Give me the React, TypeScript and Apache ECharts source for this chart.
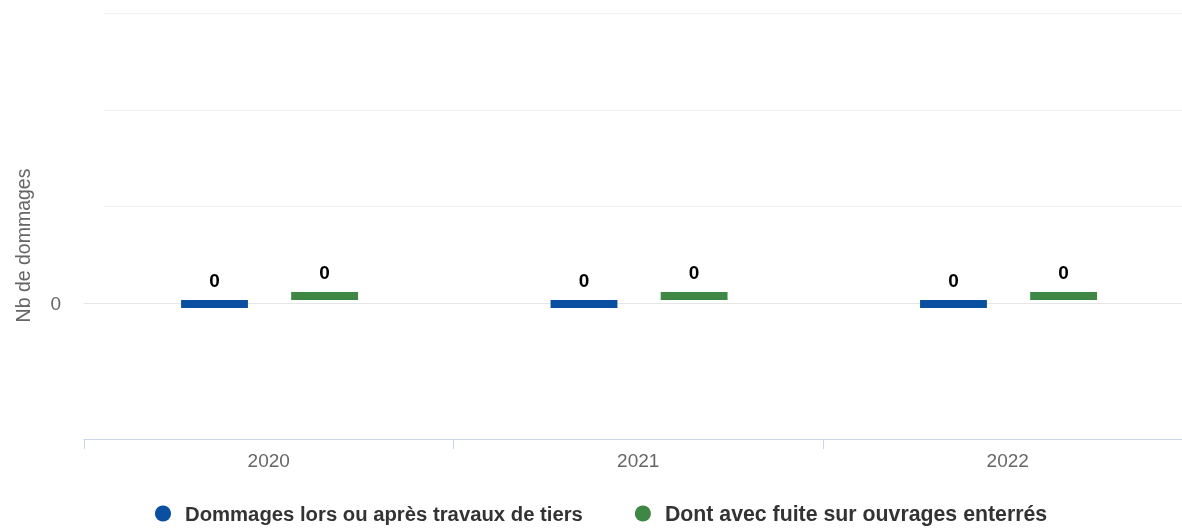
import React, { useEffect, useRef } from "react";
import * as echarts from "echarts";

const categories = ["2020", "2021", "2022"];
const blueValues = [0, 0, 0];
const greenValues = [0, 0, 0];
const seriesNames = [
  "Dommages lors ou après travaux de tiers",
  "Dont avec fuite sur ouvrages enterrés",
];
const seriesColors = ["#0a4fa0", "#3e8744"];
const yTitle = "Nb de dommages";
const yGridValues = [0, 1, 2, 3];

const FONT = "'Liberation Sans', Arial, Helvetica, sans-serif";

function makeRenderItem(s: number) {
  return (params: any, api: any) => {
    const idx = api.value(0);
    const v = api.value(1);
    const c = api.coord([idx, v]);
    const zero = api.coord([idx, 0]);
    const band = api.size([1, 0])[0];
    const w = band * 0.181;
    const off = band * 0.149 * (s === 0 ? -1 : 1);
    const x = c[0] + off - w / 2 + 0.8;
    let top: number;
    let h: number;
    if (v === 0) {
      top = zero[1] + (s === 0 ? -3.4 : -11.4);
      h = 8;
    } else {
      top = Math.min(c[1], zero[1]);
      h = Math.abs(c[1] - zero[1]);
    }
    return {
      type: "group",
      children: [
        {
          type: "rect",
          shape: { x, y: top, width: w, height: h },
          style: { fill: seriesColors[s] },
        },
        {
          type: "text",
          style: {
            text: String(v),
            x: x + w / 2,
            y: top - 20,
            textAlign: "center",
            textVerticalAlign: "middle",
            fill: "#000",
            font: `bold 19px ${FONT}`,
          },
        },
      ],
    };
  };
}

export default function App() {
  const ref = useRef<HTMLDivElement>(null);
  useEffect(() => {
    if (!ref.current) return;
    const chart = echarts.init(ref.current, undefined, { renderer: "svg" });
    const option: any = {
      animation: false,
      textStyle: { fontFamily: FONT },
      grid: [
        { left: 84, width: 1108.5, top: 13, bottom: 90, outerBoundsMode: "none" },
        { left: 104, width: 1088.5, top: 13, bottom: 225.55, outerBoundsMode: "none" },
      ],
      xAxis: [
        {
          type: "category",
          gridIndex: 0,
          data: categories,
          boundaryGap: true,
          axisLine: { onZero: false, lineStyle: { color: "#ccd6eb", width: 1 } },
          axisTick: { show: true, length: 10, lineStyle: { color: "#ccd6eb" } },
          axisLabel: { color: "#666", fontSize: 19, margin: 12, fontFamily: FONT },
          splitLine: { show: false },
        },
        {
          type: "category",
          gridIndex: 0,
          data: categories,
          position: "bottom",
          axisLine: { onZero: true, lineStyle: { color: "#e6e6e6", width: 1 } },
          axisTick: { show: false },
          axisLabel: { show: false },
          splitLine: { show: false },
        },
        {
          type: "value",
          gridIndex: 1,
          show: false,
          min: 0,
          max: 1,
        },
      ],
      yAxis: [
        {
          type: "value",
          gridIndex: 0,
          min: -1.4,
          max: 3,
          show: false,
          splitLine: { show: false },
        },
        {
          type: "value",
          gridIndex: 1,
          min: yGridValues[0],
          max: yGridValues[yGridValues.length - 1],
          interval: 1,
          axisLine: { show: false },
          axisTick: { show: false },
          axisLabel: {
            color: "#666",
            fontSize: 19,
            margin: 43,
            fontFamily: FONT,
            formatter: (v: number) => (v === 0 ? "0" : ""),
          },
          splitLine: {
            show: true,
            lineStyle: {
              color: ["rgba(0,0,0,0)", "#f2f2f2", "#f2f2f2", "#f2f2f2"],
              width: 1,
            },
          },
        },
      ],
      legend: {
        data: [
          { name: seriesNames[0], textStyle: { fontSize: 20.3 } },
          { name: seriesNames[1], textStyle: { fontSize: 21.3 } },
        ],
        left: 150,
        top: 498,
        icon: "circle",
        itemWidth: 16,
        itemHeight: 16,
        itemGap: 52,
        textStyle: {
          color: "#333",
          fontSize: 21,
          fontWeight: "bold",
          fontFamily: FONT,
          padding: [0, 0, 0, 9],
        },
      },
      graphic: [
        {
          type: "text",
          x: 23,
          y: 245.5,
          rotation: Math.PI / 2,
          style: {
            text: yTitle,
            fill: "#666",
            font: `19.5px ${FONT}`,
            textAlign: "center",
            textVerticalAlign: "middle",
          },
        },
      ],
      series: [
        {
          name: seriesNames[0],
          type: "custom",
          xAxisIndex: 0,
          yAxisIndex: 0,
          z: 3,
          itemStyle: { color: seriesColors[0] },
          encode: { x: 0, y: 1 },
          data: categories.map((_, i) => [i, blueValues[i]]),
          renderItem: makeRenderItem(0),
        },
        {
          name: seriesNames[1],
          type: "custom",
          xAxisIndex: 0,
          yAxisIndex: 0,
          z: 3,
          itemStyle: { color: seriesColors[1] },
          encode: { x: 0, y: 1 },
          data: categories.map((_, i) => [i, greenValues[i]]),
          renderItem: makeRenderItem(1),
        },
      ],
    };
    chart.setOption(option);
    return () => chart.dispose();
  }, []);
  return (
    <div
      ref={ref}
      style={{ position: "fixed", left: 0, top: 0, width: 1182, height: 529 }}
    />
  );
}
